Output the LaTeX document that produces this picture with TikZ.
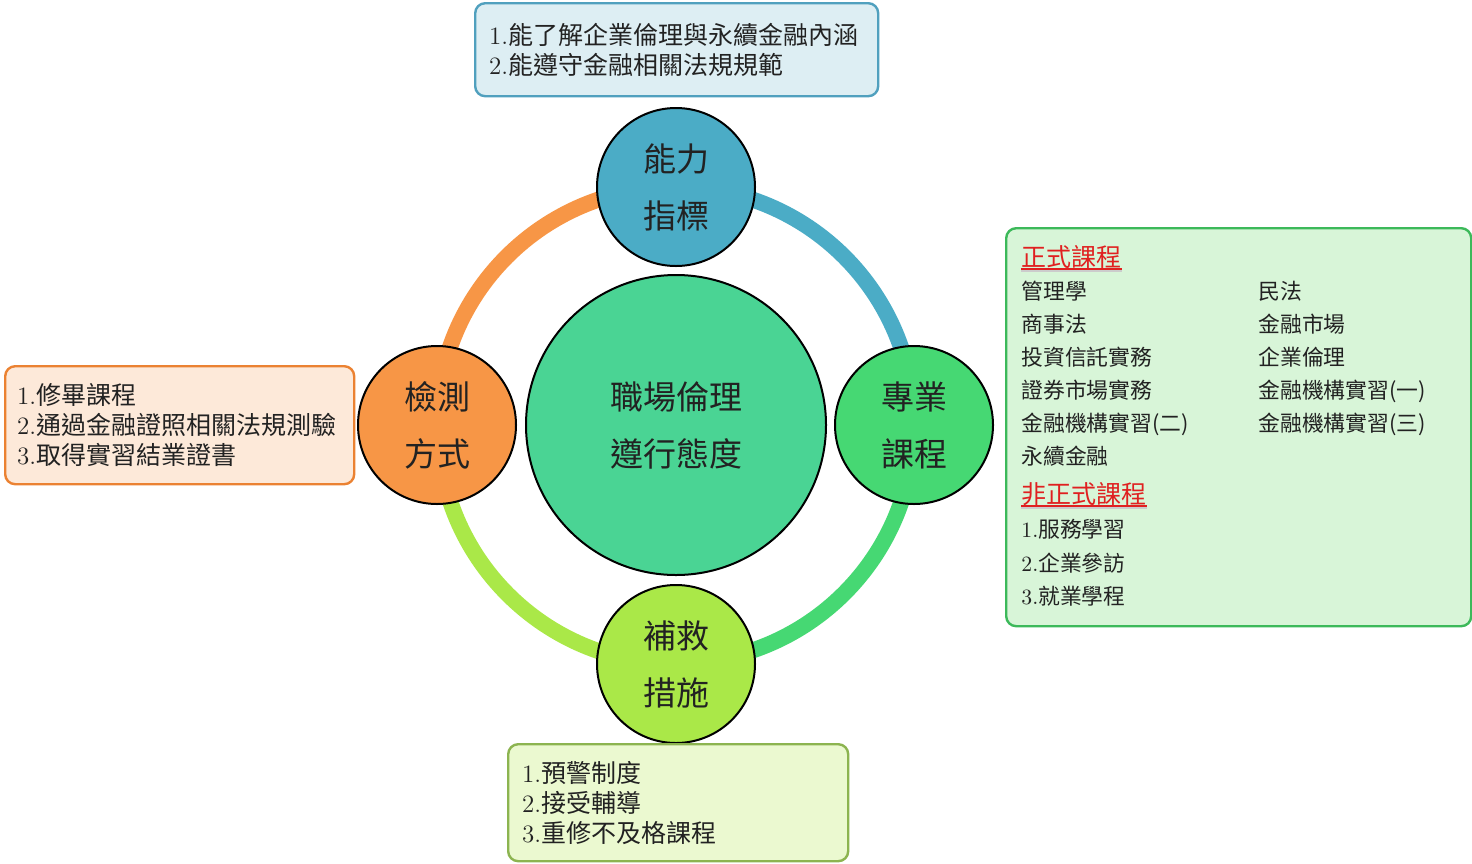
\documentclass[tikz,border=0pt]{standalone}
\usepackage{fontspec}
\newfontfamily\cjk{Noto Sans CJK TC}
\usetikzlibrary{backgrounds}
\definecolor{capblue}{RGB}{75,172,198}
\definecolor{caporange}{RGB}{247,150,70}
\definecolor{capgreen}{RGB}{70,216,115}
\definecolor{caplime}{RGB}{170,232,72}
\definecolor{corefill}{RGB}{74,212,148}
\definecolor{inkgray}{RGB}{34,34,34}
\definecolor{headred}{RGB}{224,32,32}
\definecolor{topfill}{RGB}{221,238,243}
\definecolor{topline}{RGB}{80,160,190}
\definecolor{leftfill}{RGB}{253,233,217}
\definecolor{leftline}{RGB}{235,130,50}
\definecolor{rightfill}{RGB}{216,245,216}
\definecolor{rightline}{RGB}{60,185,90}
\definecolor{botfill}{RGB}{235,249,208}
\definecolor{botline}{RGB}{140,180,80}

\begin{document}
\begin{tikzpicture}[x=0.5pt, y=0.5pt,
  spoke/.style={circle, draw=black, line width=1pt, minimum size=79pt, inner sep=0pt, align=center, text=inkgray, font=\cjk\fontsize{16.5}{28.5}\selectfont},
  hub/.style={spoke, minimum size=150pt, fill=corefill},
  ring/.style={line width=8pt},
  panel/.style={rounded corners=5pt, line width=1.2pt, anchor=north west, align=left, inner ysep=0pt, text=inkgray, font=\fontsize{12.5}{15}\selectfont},
  item/.style={anchor=north west, align=left, inner sep=0pt, text=inkgray, font=\cjk\fontsize{10.9}{16.5}\selectfont},
  head/.style={item, text=headred, font=\cjk\fontsize{12.5}{15}\selectfont}
]
  \useasboundingbox (0,0) rectangle (1472,-863);

  % circles
  \node[hub] (core) at (676,-425) {職場倫理\\遵行態度};
  \node[spoke, fill=capblue] (ability) at (676,-187) {能力\\指標};
  \node[spoke, fill=capgreen] (major) at (914,-425) {專業\\課程};
  \node[spoke, fill=caplime] (remedy) at (676,-664) {補救\\措施};
  \node[spoke, fill=caporange] (assess) at (437,-425) {檢測\\方式};

  \begin{scope}[on background layer]
    \draw[ring, capblue] (ability.center) arc[start angle=90, end angle=0, radius=238];
    \draw[ring, capgreen] (major.center) arc[start angle=0, end angle=-90, radius=238];
    \draw[ring, caplime] (remedy.center) arc[start angle=270, end angle=180, radius=238];
    \draw[ring, caporange] (assess.center) arc[start angle=180, end angle=90, radius=238];
  \end{scope}

  % text boxes
  \node[panel, draw=topline, fill=topfill, inner xsep=7pt, text width=187.5pt, minimum width=201.5pt, minimum height=46.5pt] (goals) at (474,-2)
    {1.{\cjk 能了解企業倫理與永續金融內涵}\\2.{\cjk 能遵守金融相關法規規範}};
  \node[panel, draw=leftline, fill=leftfill, inner xsep=6pt, text width=162.5pt, minimum width=174.5pt, minimum height=59pt] (checks) at (4,-365)
    {1.{\cjk 修畢課程}\\2.{\cjk 通過金融證照相關法規測驗}\\3.{\cjk 取得實習結業證書}};
  \node[panel, draw=botline, fill=botfill, inner xsep=7pt, text width=156pt, minimum width=170pt, minimum height=58.5pt] (support) at (507,-743)
    {1.{\cjk 預警制度}\\2.{\cjk 接受輔導}\\3.{\cjk 重修不及格課程}};
  \node[panel, draw=rightline, fill=rightfill, minimum width=232.5pt, minimum height=199pt] (courses) at (1005,-227) {};

  \node[head] (formal) at (1021,-244.5) {正式課程};
  \node[item] (formal-a) at (1021,-281) {管理學\\商事法\\投資信託實務\\證券市場實務\\金融機構實習(二)\\永續金融};
  \node[item] (formal-b) at (1258,-281) {民法\\金融市場\\企業倫理\\金融機構實習(一)\\金融機構實習(三)};
  \node[head] (informal) at (1021,-481.5) {非正式課程};
  \node[item, font=\fontsize{10.9}{16.75}\selectfont] (informal-a) at (1021,-519) {1.{\cjk 服務學習}\\2.{\cjk 企業參訪}\\3.{\cjk 就業學程}};

  \draw[gray!40, line width=1pt] ([yshift=-1.2pt]formal.south west) -- ([yshift=-1.2pt]formal.south east);
  \draw[headred, line width=1pt] ([yshift=-0.4pt]formal.south west) -- ([yshift=-0.4pt]formal.south east);
  \draw[gray!40, line width=1pt] ([yshift=-1.2pt]informal.south west) -- ([yshift=-1.2pt]informal.south east);
  \draw[headred, line width=1pt] ([yshift=-0.4pt]informal.south west) -- ([yshift=-0.4pt]informal.south east);
\end{tikzpicture}
\end{document}
